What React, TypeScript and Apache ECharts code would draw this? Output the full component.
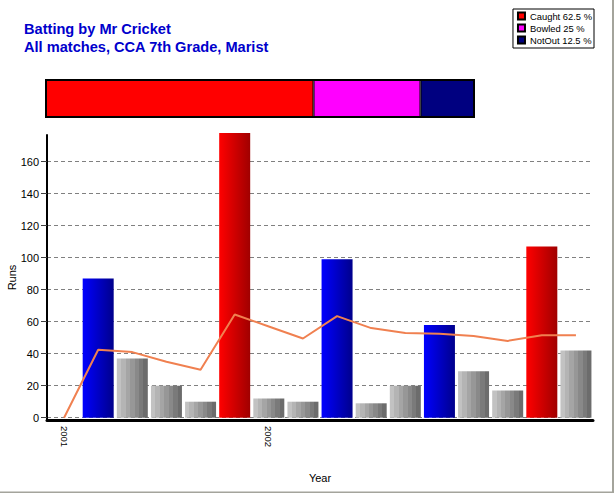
import React, { useEffect, useRef } from 'react';
import * as echarts from 'echarts';

// Innings (one per category), year label shown at the first innings of each year
const innings = ['2001', '', '', '', '', '', '2002', '', '', '', '', '', '', '', '', ''];
const runs = [0, 87, 37, 20, 10, 178, 12, 10, 99, 9, 20, 58, 29, 17, 107, 42];
const average = [0, 42.5, 41, 35, 30, 64.5, 57, 49.5, 63.5, 56, 53, 52.5, 51, 48, 51.5, 51.5];

// Dismissal breakdown
const dismissals = ['Caught', 'Bowled', 'NotOut'];
const dismissalPct = [62.5, 25, 12.5];
const dismissalColors = ['#FF0000', '#FF00FF', '#000080'];

const FONT = 'Liberation Sans, Arial, sans-serif';

function banded(c0: number, c1: number, bands: number) {
  const stops: any[] = [];
  for (let i = 0; i < bands; i++) {
    const v = Math.round(c0 + ((c1 - c0) * i) / (bands - 1));
    const col = `rgb(${v},${v},${v})`;
    stops.push({ offset: i / bands, color: col });
    stops.push({ offset: (i + 1) / bands, color: col });
  }
  return new echarts.graphic.LinearGradient(0, 0, 1, 0, stops);
}

function barColor(v: number) {
  if (v >= 100)
    return new echarts.graphic.LinearGradient(0, 0, 1, 0, [
      { offset: 0, color: '#FF0000' },
      { offset: 1, color: '#A00000' },
    ]);
  if (v >= 50)
    return new echarts.graphic.LinearGradient(0, 0, 1, 0, [
      { offset: 0, color: '#0000FF' },
      { offset: 1, color: '#00008C' },
    ]);
  return banded(194, 108, 7);
}

export default function App() {
  const ref = useRef<HTMLDivElement>(null);
  useEffect(() => {
    if (!ref.current) return;
    const chart = echarts.init(ref.current, null, { renderer: 'svg' });
    const pxPerUnit = 256 / 160;
    const mainBottom = 73;
    const gridBottom = 75.3;
    const mainTop = 135;
    const mainMin = -(gridBottom - mainBottom) / pxPerUnit;
    const mainMax = (493 - mainBottom - mainTop) / pxPerUnit + mainMin;

    chart.setOption({
      animation: false,
      backgroundColor: '#FFFFFF',
      textStyle: { fontFamily: FONT },
      title: {
        text: 'Batting by Mr Cricket\nAll matches, CCA 7th Grade, Marist',
        left: 24,
        top: 20,
        padding: 0,
        textStyle: {
          color: '#0000CC',
          fontSize: 14.6,
          fontWeight: 'bold',
          lineHeight: 18,
          fontFamily: FONT,
        },
      },
      legend: {
        data: dismissals,
        orient: 'vertical',
        right: 20,
        top: 9,
        padding: [2, 2, 3, 4],
        itemGap: 2,
        itemWidth: 7,
        itemHeight: 7,
        icon: 'rect',
        borderColor: '#000000',
        borderWidth: 1,
        backgroundColor: '#FFFFFF',
        selectedMode: false,
        formatter: (name: string) => `${name} ${dismissalPct[dismissals.indexOf(name)]} %`,
        textStyle: { fontSize: 9.4, lineHeight: 10, color: '#000000', fontFamily: FONT },
      },
      graphic: [
        { type: 'rect', shape: { x: 612, y: 0, width: 2, height: 493 }, style: { fill: '#A4A49C' }, z: 100 },
        { type: 'rect', shape: { x: 0, y: 491.5, width: 614, height: 1.5 }, style: { fill: '#A4A49C' }, z: 100 },
      ],
      grid: [
        { left: 47, right: 21, top: mainTop, bottom: mainBottom, outerBoundsMode: 'none', containLabel: false },
        { left: 47, right: 21, top: 161.7, bottom: gridBottom, outerBoundsMode: 'none', containLabel: false },
        {
          left: 46, top: 80, width: 428, height: 37, show: true, borderColor: '#000000', borderWidth: 2,
          backgroundColor: 'transparent', z: 3, outerBoundsMode: 'none', containLabel: false,
        },
      ],
      xAxis: [
        {
          gridIndex: 0,
          type: 'category',
          data: innings,
          boundaryGap: true,
          axisLine: { onZero: false, lineStyle: { color: '#000000', width: 3 } },
          axisTick: { alignWithLabel: true, interval: 0, length: 4, lineStyle: { color: '#808080' } },
          axisLabel: { interval: 0, rotate: -90, fontSize: 9.5, margin: 6, color: '#000000', fontFamily: FONT },
          splitLine: { show: false },
          name: 'Year',
          nameLocation: 'middle',
          nameGap: 52,
          nameTextStyle: { fontSize: 11, color: '#000000', fontFamily: FONT },
        },
        { gridIndex: 1, type: 'value', show: false, min: 0, max: 1 },
        { gridIndex: 2, type: 'value', show: false, min: 0, max: 100 },
      ],
      yAxis: [
        {
          gridIndex: 0,
          type: 'value',
          min: mainMin,
          max: mainMax,
          axisLine: { show: true, lineStyle: { color: '#000000', width: 2 } },
          axisTick: { show: false },
          axisLabel: { show: false },
          splitLine: { show: false },
          name: 'Runs',
          nameLocation: 'middle',
          nameGap: 30,
          nameTextStyle: { fontSize: 11, color: '#000000', fontFamily: FONT },
        },
        {
          gridIndex: 1,
          type: 'value',
          min: 0,
          max: 160,
          interval: 20,
          axisLine: { show: false },
          axisTick: { show: true, length: 6, lineStyle: { color: '#404040' } },
          axisLabel: { fontSize: 11, color: '#000000', margin: 8, fontFamily: FONT },
          splitLine: { show: true, lineStyle: { color: '#808080', width: 1, type: [4, 3] } },
        },
        { gridIndex: 2, type: 'category', data: ['share'], show: false },
      ],
      series: [
        {
          name: 'Runs',
          type: 'bar',
          xAxisIndex: 0,
          yAxisIndex: 0,
          barWidth: 31,
          clip: false,
          data: runs.map((v) => ({ value: v, itemStyle: { color: barColor(v) } })),
          z: 2,
        },
        {
          name: 'Average',
          type: 'line',
          xAxisIndex: 0,
          yAxisIndex: 0,
          data: average,
          symbol: 'none',
          lineStyle: { color: '#F08050', width: 2 },
          z: 3,
        },
        ...dismissals.map((d, i) => ({
          name: d,
          type: 'bar',
          xAxisIndex: 2,
          yAxisIndex: 2,
          stack: 'dismissal',
          barWidth: '100%',
          data: [dismissalPct[i]],
          itemStyle: { color: dismissalColors[i], borderColor: '#000000', borderWidth: 1 },
        })),
      ],
    });
    return () => chart.dispose();
  }, []);
  return <div ref={ref} style={{ position: 'absolute', left: 0, top: 0, width: 614, height: 493 }} />;
}
